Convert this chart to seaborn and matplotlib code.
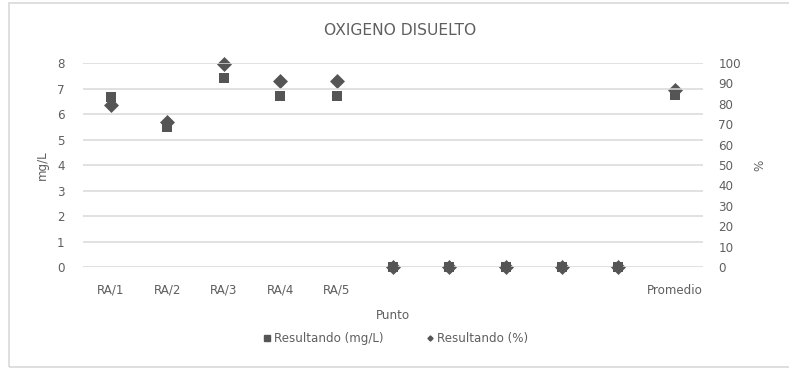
import numpy as np
import pandas as pd
import matplotlib
matplotlib.use("Agg")
import matplotlib.pyplot as plt
from matplotlib.patches import Rectangle
from matplotlib.lines import Line2D
import seaborn as sns

# Sampling points (five unnamed slots between RA/5 and the average)
puntos = ["RA/1", "RA/2", "RA/3", "RA/4", "RA/5", "", "", "", "", "", "Promedio"]
resultado_mgl = [6.65, 5.5, 7.42, 6.72, 6.72, 0, 0, 0, 0, 0, 6.75]
resultado_pct = [79.5, 71.2, 99.6, 91.2, 91.2, 0, 0, 0, 0, 0, 86.8]

df = pd.DataFrame({
    "pos": np.arange(len(puntos)),
    "mgl": resultado_mgl,
    "pct": resultado_pct,
})

sns.set_theme(style="white")
plt.rcParams["font.family"] = ["DejaVu Sans"]

TXT = "#5f5f5f"
MARK = "#555555"
GRID = "#d9d9d9"
FS = 8.6

fig = plt.figure(figsize=(7.89, 3.69), dpi=100)
ax = fig.add_axes([0.105, 0.2764, 0.786, 0.5528])
ax2 = ax.twinx()

sns.scatterplot(data=df, x="pos", y="mgl", ax=ax, marker="s", s=48,
                color=MARK, edgecolor=MARK, linewidth=0, clip_on=False, zorder=3,
                legend=False)
sns.scatterplot(data=df, x="pos", y="pct", ax=ax2, marker="D", s=58,
                color=MARK, edgecolor=MARK, linewidth=0, clip_on=False, zorder=3,
                legend=False)

ax.set_xlim(-0.5, len(puntos) - 0.5)
ax.set_ylim(0, 8)
ax2.set_ylim(0, 100)
ax.set_yticks(range(0, 9))
ax2.set_yticks(range(0, 101, 10))
ax.set_xticks(df["pos"])
ax.set_xticklabels(puntos)

ax.yaxis.grid(True, color=GRID, linewidth=1.1)
ax.set_axisbelow(True)
for a in (ax, ax2):
    for s in a.spines.values():
        s.set_visible(False)
    a.tick_params(length=0, colors=TXT, labelsize=FS)
ax.tick_params(axis="y", pad=13)
ax2.tick_params(axis="y", pad=11)
ax.tick_params(axis="x", pad=12)

ax.set_xlabel("Punto", color=TXT, fontsize=FS, labelpad=9)
ax.set_ylabel("mg/L", color=TXT, fontsize=FS, labelpad=6)
ax2.set_ylabel("%", color=TXT, fontsize=FS, labelpad=9)
ax.set_zorder(ax2.get_zorder() + 1)
ax.patch.set_visible(False)

fig.text(0.507, 0.918, "OXIGENO DISUELTO", ha="center", va="center",
         color=TXT, fontsize=11.2)

handles = [
    Line2D([], [], marker="s", linestyle="none", color=MARK, markersize=4.3,
           label="Resultando (mg/L)"),
    Line2D([], [], marker="D", linestyle="none", color=MARK, markersize=2.6,
           label="Resultando (%)"),
]
fig.legend(handles=handles, loc="center", bbox_to_anchor=(0.5, 0.082), ncol=2,
           frameon=False, fontsize=FS, labelcolor=TXT, handletextpad=0.1,
           columnspacing=3.4, handlelength=1.0)

fig.patches.append(Rectangle((0.011, 0.006), 1.2, 0.986, transform=fig.transFigure,
                             fill=False, edgecolor=GRID, linewidth=1.2))

fig.savefig("out.png", dpi=100)
